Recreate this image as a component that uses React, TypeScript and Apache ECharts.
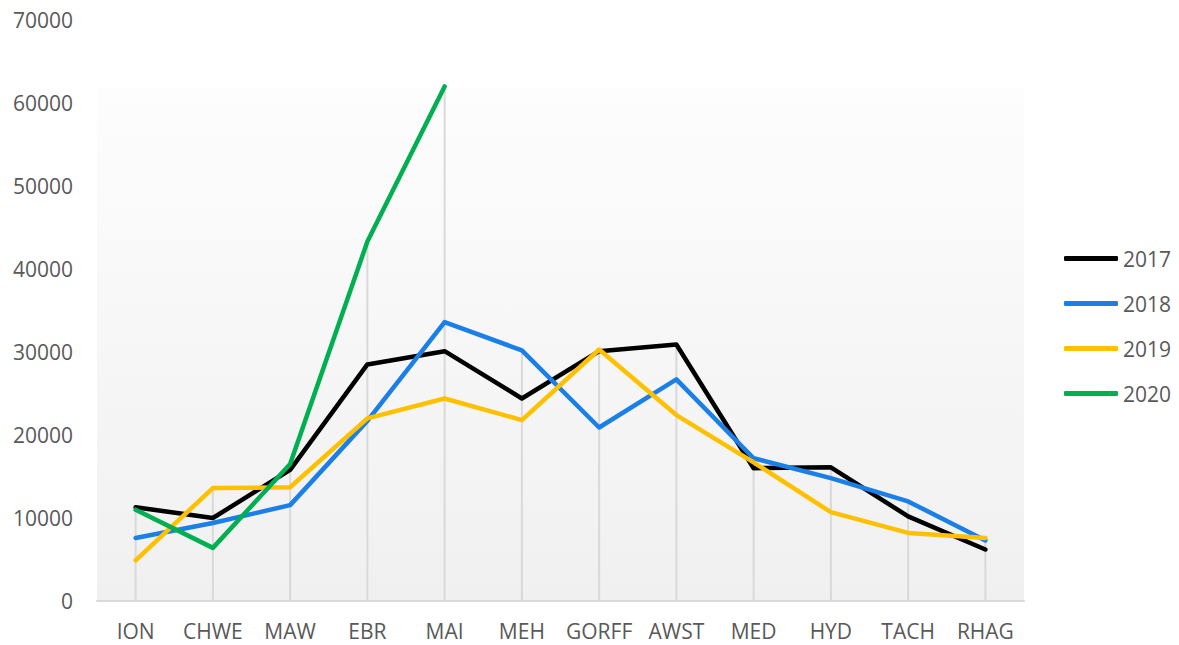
import React, { useEffect, useRef } from "react";
import * as echarts from "echarts";

const categories = ["ION", "CHWE", "MAW", "EBR", "MAI", "MEH", "GORFF", "AWST", "MED", "HYD", "TACH", "RHAG"];
const s2017 = [11300, 10000, 15800, 28500, 30100, 24400, 30100, 30900, 16000, 16100, 10200, 6200];
const s2018 = [7600, 9400, 11550, 21700, 33600, 30200, 20900, 26700, 17200, 14800, 12000, 7300];
const s2019 = [4900, 13600, 13700, 22000, 24400, 21800, 30300, 22400, 16700, 10700, 8200, 7600];
const s2020 = [11000, 6400, 16500, 43300, 62000, null, null, null, null, null, null, null];
const yTicks = { min: 0, max: 70000, interval: 10000 };

const seriesDefs = [
  { name: "2017", data: s2017, color: "#000000" },
  { name: "2018", data: s2018, color: "#1a7fe6" },
  { name: "2019", data: s2019, color: "#ffc000" },
  { name: "2020", data: s2020, color: "#00b050" },
];

const dropMax = categories.map((_, i) =>
  Math.max(...seriesDefs.map((s) => (s.data[i] == null ? 0 : (s.data[i] as number))))
);

export default function App() {
  const ref = useRef<HTMLDivElement>(null);
  useEffect(() => {
    if (!ref.current) return;
    const chart = echarts.init(ref.current, undefined, { renderer: "svg" });
    const font = "'Open Sans', sans-serif";
    chart.setOption({
      animation: false,
      backgroundColor: "#ffffff",
      grid: {
        left: 97,
        right: 155,
        top: 20,
        bottom: 44,
        show: true,
        borderWidth: 0,
        backgroundColor: new echarts.graphic.LinearGradient(0, 0, 0, 1, [
          { offset: 0, color: "#ffffff" },
          { offset: 0.11, color: "#ffffff" },
          { offset: 0.12, color: "#fdfdfd" },
          { offset: 1, color: "#f0f0f0" },
        ]),
      },
      legend: {
        orient: "vertical",
        left: 1059,
        top: 243,
        itemWidth: 54,
        itemHeight: 5,
        itemGap: 24,
        icon: "roundRect",
        data: seriesDefs.map((s) => s.name),
        textStyle: { fontFamily: font, fontSize: 21, color: "#595959" },
      },
      xAxis: {
        type: "category",
        data: categories,
        boundaryGap: true,
        axisLine: { show: true, lineStyle: { color: "#d9d9d9", width: 2 } },
        axisTick: { show: false },
        axisLabel: { fontFamily: font, fontSize: 21, color: "#595959", margin: 19, interval: 0 },
        splitLine: { show: false },
      },
      yAxis: {
        type: "value",
        min: yTicks.min,
        max: yTicks.max,
        interval: yTicks.interval,
        axisLine: { show: false },
        axisTick: { show: false },
        splitLine: { show: false },
        axisLabel: {
          fontFamily: font,
          fontSize: 21,
          color: "#595959",
          margin: 24,
          formatter: (v: number) => String(v),
        },
      },
      series: [
        {
          name: "drop",
          type: "bar",
          data: dropMax,
          barWidth: 2,
          itemStyle: { color: "#d9d9d9" },
          z: 1,
          silent: true,
        },
        ...seriesDefs.map((s) => ({
          name: s.name,
          type: "line",
          data: s.data,
          showSymbol: false,
          symbol: "none",
          lineStyle: { color: s.color, width: 4.5, cap: "round", join: "round" },
          itemStyle: { color: s.color },
          z: 3,
        })),
      ],
    });
    return () => chart.dispose();
  }, []);
  return <div ref={ref} style={{ width: 1179, height: 645, position: "absolute", left: 0, top: 0 }} />;
}
